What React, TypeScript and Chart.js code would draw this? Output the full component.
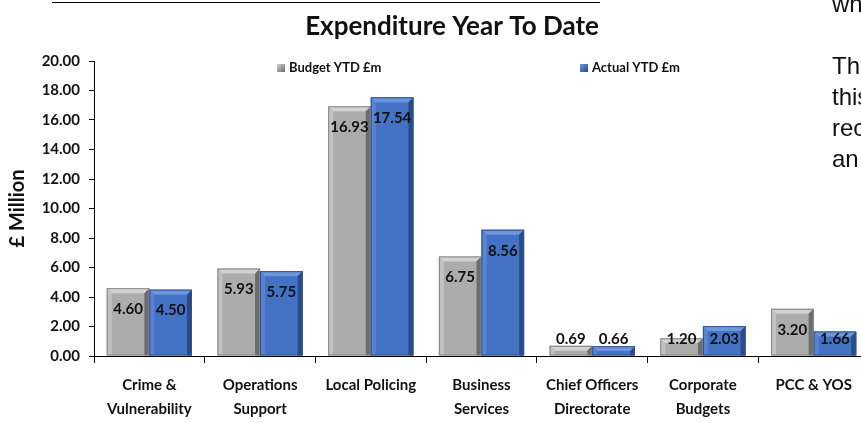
import { useEffect, useRef } from 'react';
import { Chart, registerables } from 'chart.js';

Chart.register(...registerables);

const categories: (string | string[])[] = [
  ['Crime &', 'Vulnerability'],
  ['Operations', 'Support'],
  'Local Policing',
  ['Business', 'Services'],
  ['Chief Officers', 'Directorate'],
  ['Corporate', 'Budgets'],
  'PCC & YOS',
];
const budgetYTD = [4.6, 5.93, 16.93, 6.75, 0.69, 1.2, 3.2];
const actualYTD = [4.5, 5.75, 17.54, 8.56, 0.66, 2.03, 1.66];
const seriesLabels = ['Budget YTD £m', 'Actual YTD £m'];
const yMin = 0;
const yMax = 20;
const yStep = 2;
const chartTitle = 'Expenditure Year To Date';
const yAxisTitle = '£ Million';
const sideText = ['wh', '', 'Th', 'this', 'rec', 'an'];

const FONT = 'Lato, "Open Sans", "DejaVu Sans", sans-serif';

const palette = [
  { face: '#acacac', light: '#d2d2d2', side: '#c2c2c2', dark: '#6c6c6c', edge: '#868686' },
  { face: '#4472c4', light: '#6f95dc', side: '#5a84d2', dark: '#2a4b86', edge: '#2f528f' },
];

const overlayPlugin = {
  id: 'overlay',
  afterDatasetsDraw(chart: any) {
    const ctx = chart.ctx as CanvasRenderingContext2D;
    chart.data.datasets.forEach((ds: any, di: number) => {
      const meta = chart.getDatasetMeta(di);
      const c = palette[di];
      meta.data.forEach((el: any, i: number) => {
        const { x, y, base, width } = el.getProps(['x', 'y', 'base', 'width'], true);
        const L = x - width / 2;
        const R = x + width / 2;
        const T = y;
        const B = base;
        const h = B - T;
        const b = Math.min(5, h / 2);
        ctx.save();
        ctx.fillStyle = c.light;
        ctx.beginPath();
        ctx.moveTo(L, T);
        ctx.lineTo(R, T);
        ctx.lineTo(R - b, T + b);
        ctx.lineTo(L + b, T + b);
        ctx.closePath();
        ctx.fill();
        ctx.fillStyle = c.side;
        ctx.beginPath();
        ctx.moveTo(L, T);
        ctx.lineTo(L + b, T + b);
        ctx.lineTo(L + b, B);
        ctx.lineTo(L, B);
        ctx.closePath();
        ctx.fill();
        ctx.fillStyle = c.dark;
        ctx.beginPath();
        ctx.moveTo(R, T);
        ctx.lineTo(R, B);
        ctx.lineTo(R - b, B);
        ctx.lineTo(R - b, T + b);
        ctx.closePath();
        ctx.fill();
        ctx.strokeStyle = c.edge;
        ctx.lineWidth = 1;
        ctx.strokeRect(L + 0.5, T + 0.5, width - 1, h - 1);
        ctx.restore();

        const v = ds.data[i] as number;
        ctx.save();
        ctx.font = `bold 15px ${FONT}`;
        ctx.fillStyle = '#111';
        ctx.textAlign = 'center';
        ctx.textBaseline = 'middle';
        const ly = Math.min(T + 21, B - 16);
        ctx.fillText(v.toFixed(2), x, ly);
        ctx.restore();
      });
    });
  },
  afterDraw(chart: any) {
    const ctx = chart.ctx as CanvasRenderingContext2D;
    ctx.save();
    ctx.font = `bold 26px ${FONT}`;
    ctx.fillStyle = '#111';
    ctx.textAlign = 'center';
    ctx.textBaseline = 'alphabetic';
    ctx.fillText(chartTitle, 452, 35);

    const legendX = [277, 580];
    chart.data.datasets.forEach((ds: any, di: number) => {
      const c = palette[di];
      const lx = legendX[di];
      const g = ctx.createLinearGradient(lx, 64, lx + 8, 72);
      g.addColorStop(0, c.light);
      g.addColorStop(1, c.dark);
      ctx.fillStyle = g;
      ctx.fillRect(lx, 64, 8, 8);
      ctx.font = `bold 13px ${FONT}`;
      ctx.fillStyle = '#111';
      ctx.textAlign = 'left';
      ctx.textBaseline = 'middle';
      ctx.fillText(ds.label, lx + 12, 68);
    });
    ctx.restore();
  },
};

export default function App() {
  const canvasRef = useRef<HTMLCanvasElement | null>(null);

  useEffect(() => {
    let chart: Chart | null = null;
    let cancelled = false;
    const make = () => {
      if (cancelled || !canvasRef.current) return;
      chart = new Chart(canvasRef.current, {
        type: 'bar',
        data: {
          labels: categories,
          datasets: [
            { label: seriesLabels[0], data: budgetYTD, backgroundColor: palette[0].face, borderWidth: 0 },
            { label: seriesLabels[1], data: actualYTD, backgroundColor: palette[1].face, borderWidth: 0 },
          ],
        },
        options: {
          responsive: false,
          animation: false,
          layout: { padding: { top: 61, left: 0, right: 0, bottom: 0 } },
          datasets: { bar: { categoryPercentage: 0.77, barPercentage: 1 } },
          plugins: {
            legend: { display: false },
            title: { display: false },
            tooltip: { enabled: false },
          },
          scales: {
            x: {
              grid: { offset: true, drawOnChartArea: false, tickLength: 7, color: '#000', lineWidth: 1 },
              border: { color: '#000' },
              ticks: {
                font: { family: FONT, weight: 'bold', size: 15, lineHeight: 1.55 },
                color: '#111',
                padding: 11,
                maxRotation: 0,
                autoSkip: false,
              },
              afterFit: (s: any) => {
                s.height = 67;
              },
            },
            y: {
              min: yMin,
              max: yMax,
              ticks: {
                stepSize: yStep,
                callback: (v: any) => Number(v).toFixed(2),
                font: { family: FONT, weight: 'bold', size: 15 },
                color: '#111',
                padding: 9,
              },
              grid: { drawOnChartArea: false, tickLength: 5, color: '#000' },
              border: { color: '#000' },
              title: {
                display: true,
                text: yAxisTitle,
                font: { family: FONT, weight: 'bold', size: 20 },
                color: '#111',
                padding: { top: 6, bottom: 0 },
              },
              afterFit: (s: any) => {
                s.width = 94;
              },
            },
          },
        } as any,
        plugins: [overlayPlugin],
      });
    };
    const fonts: any = (document as any).fonts;
    if (fonts && fonts.load) {
      Promise.all([fonts.load(`bold 15px Lato`), fonts.load(`bold 26px Lato`)])
        .catch(() => null)
        .then(make);
    } else {
      make();
    }
    return () => {
      cancelled = true;
      if (chart) chart.destroy();
    };
  }, []);

  return (
    <div
      style={{
        position: 'fixed',
        left: 0,
        top: 0,
        width: 861,
        height: 423,
        overflow: 'hidden',
        background: '#fff',
      }}
    >
      <div style={{ position: 'absolute', left: 52, top: 2, width: 548, height: 0, borderTop: '1px solid #000' }} />
      <canvas
        ref={canvasRef}
        width={869}
        height={423}
        style={{ position: 'absolute', left: 0, top: 0, width: 869, height: 423 }}
      />
      <div
        style={{
          position: 'absolute',
          left: 832,
          top: -12,
          font: '24px "Liberation Sans", Arial, sans-serif',
          lineHeight: '31px',
          color: '#111',
          whiteSpace: 'nowrap',
        }}
      >
        {sideText.map((t, i) => (
          <div key={i} style={{ height: 31 }}>
            {t}
          </div>
        ))}
      </div>
    </div>
  );
}
